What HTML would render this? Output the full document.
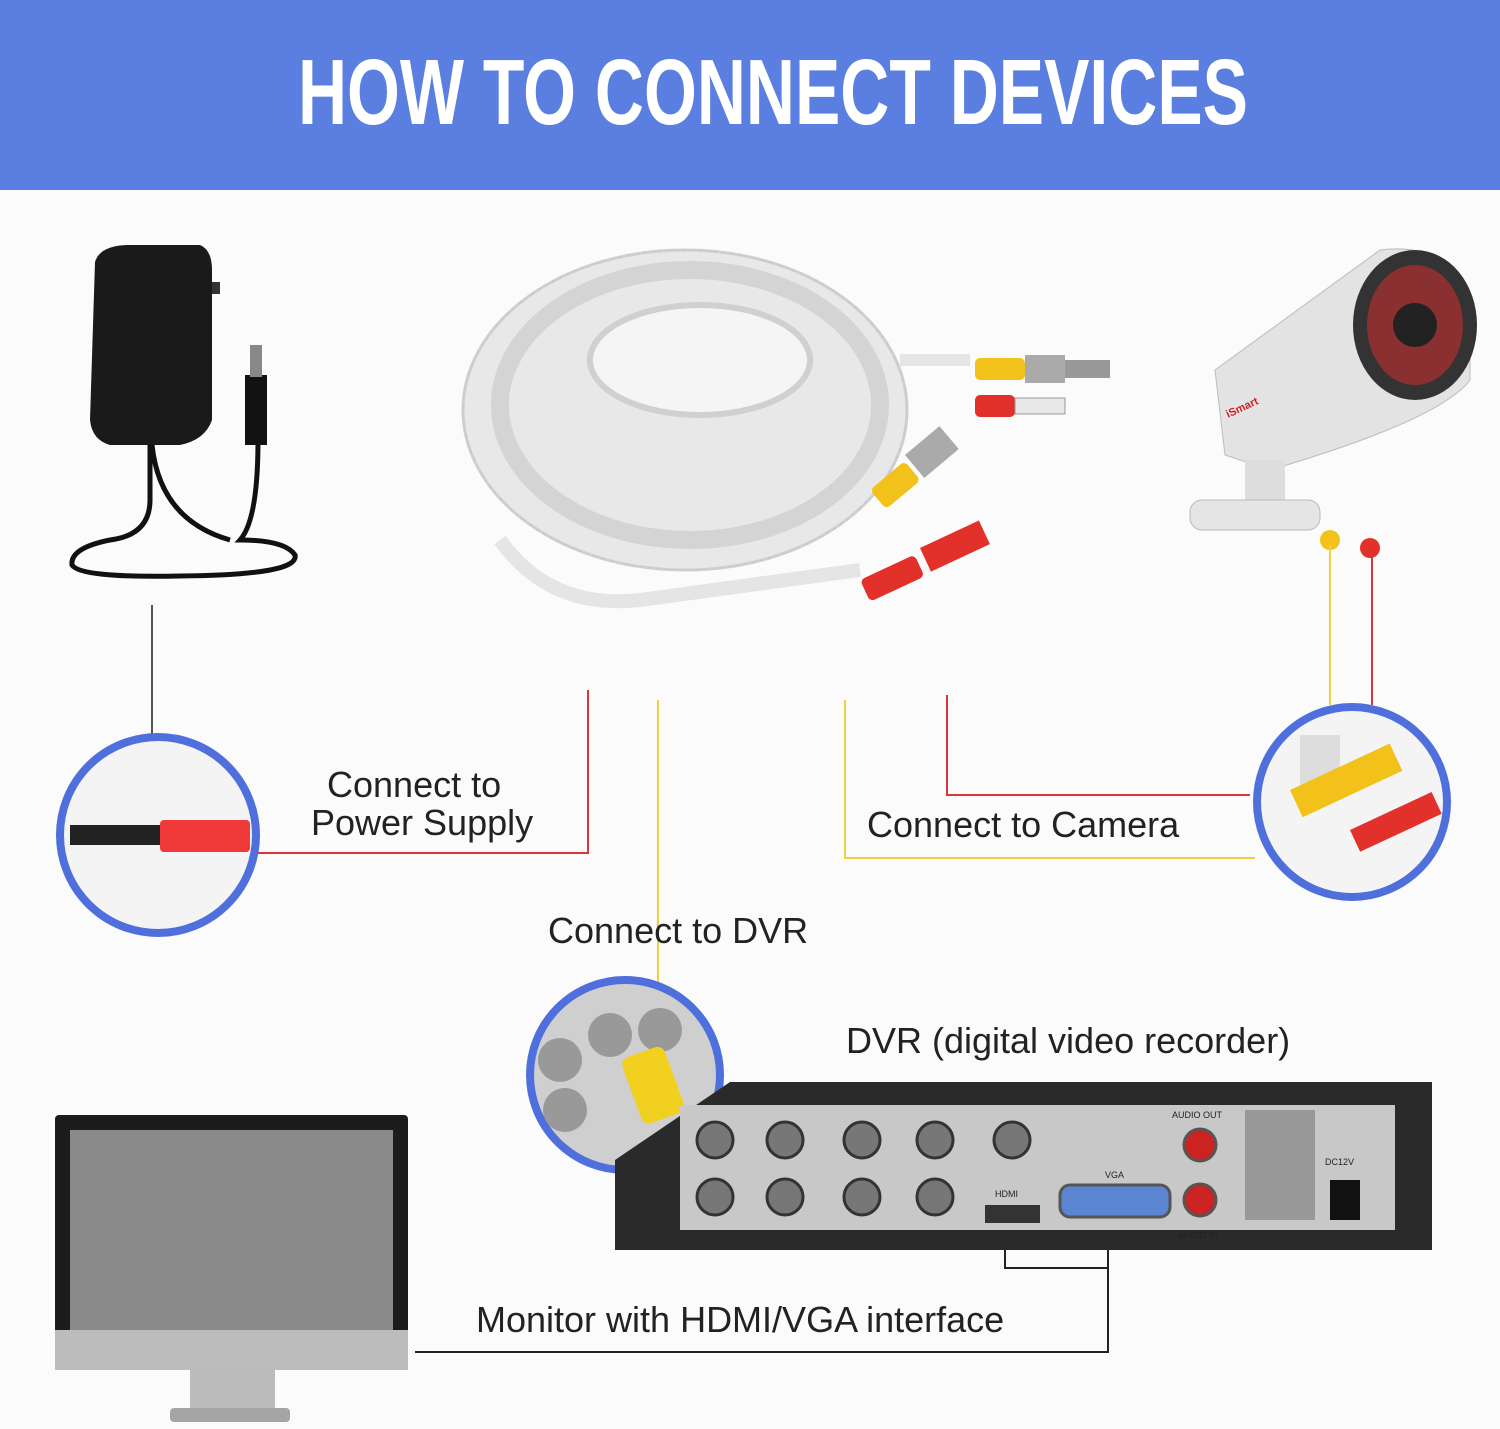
<!DOCTYPE html>
<html><head><meta charset="utf-8"><style>
html,body{margin:0;padding:0;background:#fff;}
body{width:1500px;height:1429px;overflow:hidden;position:relative;font-family:"Liberation Sans",sans-serif;}
</style></head><body>
<svg width="1500" height="1429" viewBox="0 0 1500 1429" xmlns="http://www.w3.org/2000/svg" style="position:absolute;left:0;top:0">
<rect x="0" y="0" width="1500" height="1429" fill="#fbfbfb"/>
<rect x="0" y="0" width="1500" height="190" fill="#5a7fe0"/>
<text x="773" y="124" text-anchor="middle" fill="#fff" font-family="Liberation Sans" font-weight="bold" font-size="88" transform="scale(1,1.05) translate(0,-6)" textLength="950" lengthAdjust="spacingAndGlyphs">HOW TO CONNECT DEVICES</text>

<!-- adapter -->
<path d="M95 262 Q100 245 130 245 L200 245 Q212 250 212 270 L212 420 Q205 440 180 445 L110 445 Q92 440 90 420 Z" fill="#1a1a1a"/>
<rect x="212" y="282" width="8" height="12" fill="#333"/>
<path d="M150 445 L150 500 Q150 535 110 540 Q70 548 72 565 Q80 578 180 576 Q300 575 295 555 Q285 540 240 540 Q258 520 258 440" fill="none" stroke="#111" stroke-width="5"/>
<rect x="245" y="375" width="22" height="70" fill="#111"/>
<rect x="250" y="345" width="12" height="32" fill="#888"/>
<path d="M152 445 Q160 520 230 540" fill="none" stroke="#111" stroke-width="5"/>

<!-- cable coil -->
<ellipse cx="685" cy="410" rx="222" ry="160" fill="#e8e8e8" stroke="#cfcfcf" stroke-width="3"/>
<ellipse cx="690" cy="405" rx="190" ry="135" fill="none" stroke="#d4d4d4" stroke-width="18"/>
<ellipse cx="700" cy="360" rx="110" ry="55" fill="#f5f5f5" stroke="#d0d0d0" stroke-width="6"/>
<ellipse cx="685" cy="410" rx="222" ry="160" fill="none" stroke="#c9c9c9" stroke-width="2" stroke-dasharray="2 6"/>
<path d="M500 540 Q550 610 640 600 L860 570" fill="none" stroke="#e5e5e5" stroke-width="14"/>
<path d="M900 360 L970 360" stroke="#e5e5e5" stroke-width="12"/>
<rect x="975" y="358" width="50" height="22" rx="5" fill="#f2c21a"/><rect x="1025" y="355" width="40" height="28" fill="#aaa"/><rect x="1065" y="360" width="45" height="18" fill="#999"/>
<rect x="975" y="395" width="40" height="22" rx="5" fill="#e2302a"/><rect x="1015" y="398" width="50" height="16" fill="#e8e8e8" stroke="#999"/>
<rect x="870" y="490" width="45" height="25" rx="5" fill="#f2c21a" transform="rotate(-40 870 490)"/>
<rect x="905" y="455" width="45" height="30" fill="#aaa" transform="rotate(-40 905 455)"/>
<rect x="860" y="580" width="60" height="24" rx="5" fill="#e2302a" transform="rotate(-25 860 580)"/>
<rect x="920" y="548" width="65" height="26" fill="#e2302a" transform="rotate(-25 920 548)"/>

<!-- camera -->
<path d="M1215 370 L1380 250 Q1460 240 1470 320 L1470 380 Q1440 420 1270 470 L1225 455 Z" fill="#e3e3e3" stroke="#bbb"/>
<ellipse cx="1415" cy="325" rx="62" ry="75" fill="#333"/>
<ellipse cx="1415" cy="325" rx="48" ry="60" fill="#8a3030"/>
<circle cx="1415" cy="325" r="22" fill="#222"/>
<rect x="1245" y="460" width="40" height="55" fill="#ddd"/>
<rect x="1190" y="500" width="130" height="30" rx="12" fill="#e5e5e5" stroke="#bbb"/>
<text x="1228" y="418" fill="#c22" font-size="11" font-weight="bold" transform="rotate(-25 1228 418)">iSmart</text>
<circle cx="1330" cy="540" r="10" fill="#f2c21a"/><circle cx="1370" cy="548" r="10" fill="#e2302a"/>

<!-- connectors -->
<g fill="none" stroke-width="2">
<path d="M152 605 L152 735" stroke="#555"/>
<path d="M255 853 L588 853 L588 690" stroke="#d9373a"/>
<path d="M658 700 L658 985" stroke="#f0d040"/>
<path d="M845 700 L845 858 L1255 858" stroke="#f0d040"/>
<path d="M947 695 L947 795 L1250 795" stroke="#d9373a"/>
<path d="M1330 545 L1330 705" stroke="#f0d040"/>
<path d="M1372 555 L1372 705" stroke="#d9373a"/>
<path d="M1005 1225 L1005 1268 L1108 1268 L1108 1215" stroke="#222"/>
<path d="M1108 1268 L1108 1352 L415 1352" stroke="#222"/>
</g>

<!-- circles -->
<circle cx="158" cy="835" r="98" fill="#f4f4f4" stroke="#4f6fdc" stroke-width="8"/>
<rect x="70" y="825" width="90" height="20" fill="#222"/><rect x="160" y="820" width="90" height="32" rx="4" fill="#f03a3a"/>
<circle cx="1352" cy="802" r="95" fill="#f4f4f4" stroke="#4f6fdc" stroke-width="8"/>
<rect x="1300" y="735" width="40" height="50" fill="#ddd"/>
<rect x="1290" y="790" width="110" height="30" fill="#f2c21a" transform="rotate(-25 1290 790)"/>
<rect x="1350" y="830" width="90" height="24" fill="#e2302a" transform="rotate(-25 1350 830)"/>
<circle cx="625" cy="1075" r="95" fill="#cfcfcf" stroke="#4f6fdc" stroke-width="8"/>
<circle cx="560" cy="1060" r="22" fill="#999"/><circle cx="610" cy="1035" r="22" fill="#999"/><circle cx="660" cy="1030" r="22" fill="#999"/><circle cx="565" cy="1110" r="22" fill="#999"/>
<rect x="620" y="1060" width="45" height="70" rx="8" fill="#f2d020" transform="rotate(-20 620 1060)"/>

<!-- DVR -->
<path d="M615 1160 L730 1082 L1432 1082 L1432 1250 L615 1250 Z" fill="#2a2a2a"/>
<rect x="680" y="1105" width="715" height="125" fill="#c8c8c8"/>
<g fill="#777" stroke="#333" stroke-width="3">
<circle cx="715" cy="1140" r="18"/><circle cx="785" cy="1140" r="18"/><circle cx="862" cy="1140" r="18"/><circle cx="935" cy="1140" r="18"/>
<circle cx="715" cy="1197" r="18"/><circle cx="785" cy="1197" r="18"/><circle cx="862" cy="1197" r="18"/><circle cx="935" cy="1197" r="18"/>
<circle cx="1012" cy="1140" r="18"/>
</g>
<circle cx="1200" cy="1145" r="16" fill="#c22" stroke="#555" stroke-width="3"/><circle cx="1200" cy="1200" r="16" fill="#c22" stroke="#555" stroke-width="3"/>
<rect x="1060" y="1185" width="110" height="32" rx="10" fill="#5a85d0" stroke="#555" stroke-width="3"/>
<rect x="985" y="1205" width="55" height="18" fill="#333"/>
<rect x="1245" y="1110" width="70" height="110" fill="#999"/>
<rect x="1330" y="1180" width="30" height="40" fill="#111"/>
<text x="1172" y="1118" font-size="9" fill="#222">AUDIO OUT</text><text x="1178" y="1238" font-size="9" fill="#222">AUDIO IN</text>
<text x="1105" y="1178" font-size="9" fill="#222">VGA</text><text x="995" y="1197" font-size="9" fill="#222">HDMI</text><text x="1325" y="1165" font-size="9" fill="#222">DC12V</text>

<!-- monitor -->
<rect x="55" y="1115" width="353" height="255" rx="4" fill="#1c1c1c"/>
<rect x="70" y="1130" width="323" height="200" fill="#8a8a8a"/>
<rect x="55" y="1330" width="353" height="40" fill="#bcbcbc"/>
<rect x="190" y="1370" width="85" height="40" fill="#bbb"/>
<rect x="170" y="1408" width="120" height="14" rx="4" fill="#a5a5a5"/>

<g font-family="Liberation Sans" fill="#222" font-size="36">
<text x="327" y="797">Connect to</text>
<text x="311" y="835">Power Supply</text>
<text x="867" y="837">Connect to Camera</text>
<text x="548" y="943">Connect to DVR</text>
<text x="846" y="1053">DVR (digital video recorder)</text>
<text x="476" y="1332">Monitor with HDMI/VGA interface</text>
</g>
</svg>
</body></html>
